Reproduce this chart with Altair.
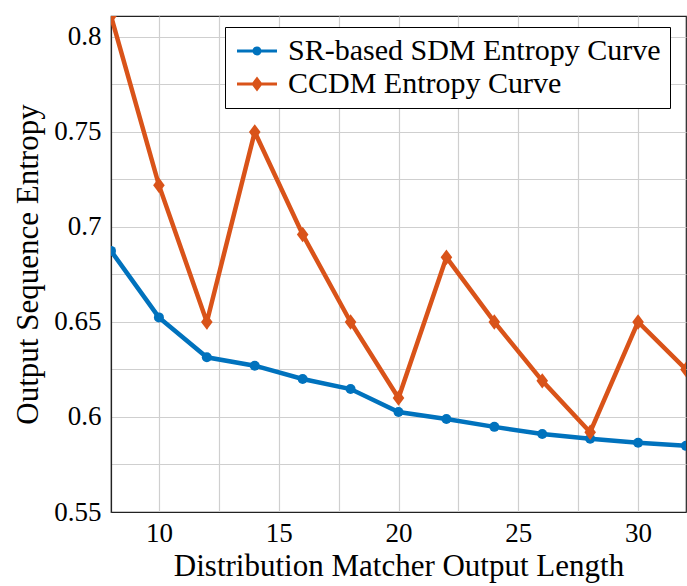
import altair as alt
import pandas as pd

x_vals = [8, 10, 12, 14, 16, 18, 20, 22, 24, 26, 28, 30, 32]
sr_vals = [0.6874, 0.6524, 0.6314, 0.6270, 0.6200, 0.6147, 0.6026, 0.5989, 0.5948, 0.5910, 0.5885, 0.5864, 0.5848]
ccdm_vals = [0.811, 0.722, 0.650, 0.750, 0.696, 0.650, 0.610, 0.684, 0.650, 0.619, 0.592, 0.650, 0.625]
series_names = ["SR-based SDM Entropy Curve", "CCDM Entropy Curve"]
colors = ["#0072BD", "#D95319"]
x_grid = [10, 12.5, 15, 17.5, 20, 22.5, 25, 27.5, 30]
y_grid = [0.55, 0.575, 0.6, 0.625, 0.65, 0.675, 0.7, 0.725, 0.75, 0.775, 0.8]

rows = []
for xv, v in zip(x_vals, sr_vals):
    rows.append({"x": xv, "y": v, "series": series_names[0]})
for xv, v in zip(x_vals, ccdm_vals):
    rows.append({"x": xv, "y": v, "series": series_names[1]})
df = pd.DataFrame(rows)

FONT = "'Liberation Serif', 'DejaVu Serif', serif"

xenc = alt.X("x:Q", scale=alt.Scale(domain=[8, 32], nice=False, zero=False),
             axis=alt.Axis(values=x_grid, title="Distribution Matcher Output Length",
                           labelExpr="datum.value % 5 == 0 ? datum.label : ''",
                           grid=True, ticks=False, labelPadding=8, titlePadding=5))
yenc = alt.Y("y:Q", scale=alt.Scale(domain=[0.55, 0.811], nice=False, zero=False),
             axis=alt.Axis(values=y_grid, title="Output Sequence Entropy",
                           labelExpr="abs(datum.value*20 - round(datum.value*20)) < 1e-6 ? format(datum.value, '~g') : ''",
                           grid=True, ticks=False, labelPadding=10, titlePadding=9))

color_scale = alt.Scale(domain=series_names, range=colors)

lines = alt.Chart(df).mark_line(strokeWidth=4.5, clip=True).encode(
    x=xenc, y=yenc,
    color=alt.Color("series:N", scale=color_scale, legend=None),
    detail="series:N",
)

diamond = "M0,-1L0.75,0L0,1L-0.75,0Z"
base = alt.Chart(df).encode(
    x=xenc, y=yenc,
    color=alt.Color("series:N", scale=color_scale, legend=None),
)
circ = base.transform_filter(alt.datum.series == series_names[0]).mark_point(
    filled=True, opacity=1, size=100, shape="circle", clip=True)
dia = base.transform_filter(alt.datum.series == series_names[1]).mark_point(
    filled=True, opacity=1, size=240, shape=diamond, clip=True)

leg_circle = ("M-1.6,-0.12L-0.2,-0.12L-0.2,0.12L-1.6,0.12Z"
              "M0.2,-0.12L1.6,-0.12L1.6,0.12L0.2,0.12Z"
              "M-0.36,0A0.36,0.36,0,1,1,0.36,0A0.36,0.36,0,1,1,-0.36,0Z")
leg_diamond = ("M-1.6,-0.12L-0.3,-0.12L-0.3,0.12L-1.6,0.12Z"
               "M0.3,-0.12L1.6,-0.12L1.6,0.12L0.3,0.12Z"
               "M0,-0.6L0.45,0L0,0.6L-0.45,0Z")

leg_props = dict(title=None, orient="none", legendX=114, legendY=11,
                 fillColor="white", strokeColor="black", padding=9,
                 labelFont=FONT, labelFontSize=30, labelColor="black", labelLimit=600,
                 symbolSize=625, symbolStrokeWidth=0, symbolOffset=8,
                 labelOffset=16, rowPadding=3, symbolOpacity=1, cornerRadius=0)

legend_layer = alt.Chart(df).transform_filter(alt.datum.x < 0).mark_point(filled=True, opacity=1).encode(
    x=xenc, y=yenc,
    color=alt.Color("series:N", scale=alt.Scale(domain=series_names, range=colors),
                    sort=series_names, legend=alt.Legend(**leg_props)),
    shape=alt.Shape("series:N", scale=alt.Scale(domain=series_names, range=[leg_circle, leg_diamond]),
                    sort=series_names, legend=alt.Legend(**leg_props)),
)

chart = alt.layer(lines, circ, dia, legend_layer).resolve_scale(
    color="independent", shape="independent"
).properties(
    width=575, height=496,
    autosize=alt.AutoSizeParams(type="none"),
    padding={"left": 111, "top": 16, "right": 1, "bottom": 74},
    background="white",
).configure_view(
    stroke="#222222", strokeWidth=1.2
).configure_axis(
    labelFont=FONT, titleFont=FONT, labelFontSize=27, titleFontSize=31,
    labelColor="black", titleColor="black", titleFontWeight="normal",
    gridColor="#cfcfcf", gridWidth=1.2, domainColor="#222222", domainWidth=1.2,
)

chart.save("out.html", embed_options={"renderer": "svg", "actions": False})
